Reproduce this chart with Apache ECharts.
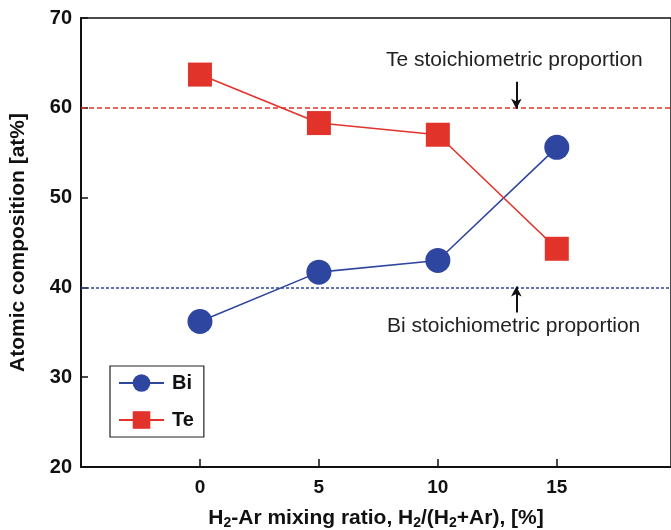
<!DOCTYPE html>
<html>
<head>
<meta charset="utf-8">
<script src="https://cdn.jsdelivr.net/npm/echarts@6/dist/echarts.min.js"></script>
<style>
  html, body { margin: 0; padding: 0; background: #fff; }
  #chart { width: 671px; height: 530px; }
</style>
</head>
<body>
<div id="chart"></div>
<script>
// H2 mixing ratio [%]
const ratios = [0, 5, 10, 15]
const biValues = [36.2, 41.7, 43.0, 55.6]
const teValues = [63.7, 58.3, 57.0, 44.3]
const xTicks = [0, 5, 10, 15]
// stoichiometric references
const teStoich = 60
const biStoich = 40

const BLUE = '#2F46A0'
const RED = '#E2332A'
const FONT = 'Liberation Sans, Arial, sans-serif'

const dom = echarts.init(document.getElementById('chart'))

let option = {
    animation: false,
    textStyle: { fontFamily: FONT },
    grid: {
        left: 81,
        top: 18,
        right: 0,
        bottom: 63,
        outerBoundsMode: 'none',
        show: true,
        borderColor: '#111',
        borderWidth: 1.5
    },
    legend: {
        orient: 'vertical',
        left: 110,
        top: 366,
        itemWidth: 45,
        itemHeight: 22,
        itemGap: 17,
        padding: [7, 10, 7, 8],
        borderColor: '#222',
        borderWidth: 1.2,
        textStyle: { fontSize: 20, fontWeight: 'bold', color: '#111', fontFamily: FONT, padding: [0, 0, 0, 3] },
        data: ['Bi', 'Te']
    },
    xAxis: {
        type: 'value',
        min: -5,
        max: 19.8,
        splitLine: { show: false },
        axisLine: { onZero: false, lineStyle: { color: '#111', width: 2 } },
        axisTick: { inside: true, length: 8, customValues: xTicks, lineStyle: { color: '#111', width: 1.5 } },
        axisLabel: {
            customValues: xTicks,
            margin: 11,
            fontSize: 19,
            fontWeight: 'bold',
            color: '#111'
        },
        name: 'H{s|2}-Ar mixing ratio, H{s|2}/(H{s|2}+Ar), [%]',
        nameLocation: 'middle',
        nameGap: 40,
        nameTextStyle: {
            fontSize: 21,
            fontWeight: 'bold',
            color: '#111',
            padding: [0, 0, 0, 0],
            rich: {
                s: { fontSize: 14, fontWeight: 'bold', verticalAlign: 'bottom', padding: [9, 0, 0, 0] }
            }
        }
    },
    yAxis: {
        type: 'value',
        min: 20,
        max: 70,
        interval: 10,
        splitLine: { show: false },
        axisLine: { onZero: false, lineStyle: { color: '#111', width: 2 } },
        axisTick: { inside: true, length: 7, lineStyle: { color: '#111', width: 1.5 } },
        axisLabel: { margin: 9, fontSize: 20, fontWeight: 'bold', color: '#111' },
        name: 'Atomic composition [at%]',
        nameLocation: 'middle',
        nameRotate: 90,
        nameGap: 52,
        nameTextStyle: { fontSize: 21, fontWeight: 'bold', color: '#111' }
    },
    series: [
        {
            name: 'Bi',
            type: 'line',
            data: ratios.map((r, i) => [r, biValues[i]]),
            symbol: 'circle',
            symbolSize: 25,
            itemStyle: { color: BLUE },
            lineStyle: { color: BLUE, width: 1.6 },
            z: 3,
            markLine: {
                silent: true,
                symbol: 'none',
                label: { show: false },
                data: [
                    { yAxis: biStoich, lineStyle: { color: BLUE, type: [3, 2], width: 1.5 } },
                    [
                        { coord: [13.3, 37.2], symbol: 'none', lineStyle: { color: '#111', type: 'solid', width: 2 } },
                        { coord: [13.3, 40.1], symbol: 'arrow', symbolSize: [8, 10] }
                    ]
                ]
            }
        },
        {
            name: 'Te',
            type: 'line',
            data: ratios.map((r, i) => [r, teValues[i]]),
            symbol: 'rect',
            symbolSize: 24,
            itemStyle: { color: RED },
            lineStyle: { color: RED, width: 1.6 },
            z: 3,
            markLine: {
                silent: true,
                symbol: 'none',
                label: { show: false },
                data: [
                    { yAxis: teStoich, lineStyle: { color: RED, type: [5, 3], width: 1.5 } },
                    [
                        { coord: [13.3, 62.9], symbol: 'none', lineStyle: { color: '#111', type: 'solid', width: 2 } },
                        { coord: [13.3, 59.9], symbol: 'arrow', symbolSize: [8, 10] }
                    ]
                ]
            }
        }
    ],
    graphic: [
        {
            type: 'text',
            left: 386,
            top: 50,
            style: { text: 'Te stoichiometric proportion', fontSize: 21, fontFamily: FONT, fill: '#222' }
        },
        {
            type: 'text',
            left: 387,
            top: 316,
            style: { text: 'Bi stoichiometric proportion', fontSize: 21, fontFamily: FONT, fill: '#222' }
        }
    ]
}

dom.setOption(option)
window.addEventListener('resize', () => dom.resize(), false)
</script>
</body>
</html>
